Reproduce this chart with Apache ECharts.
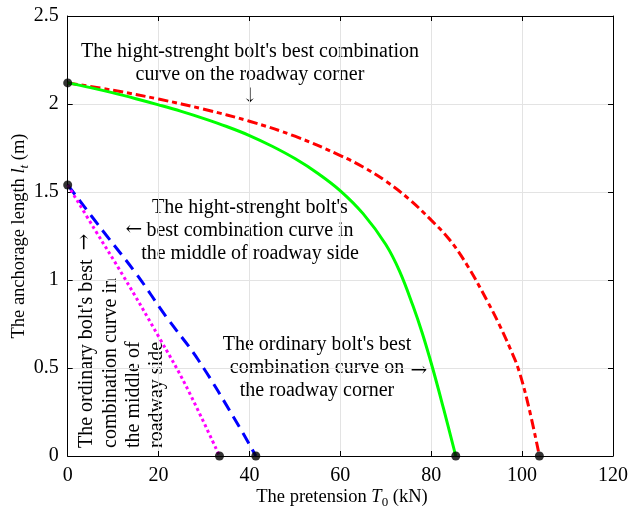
<!DOCTYPE html>
<html>
<head>
<meta charset="utf-8">
<script src="https://cdn.jsdelivr.net/npm/echarts@6/dist/echarts.min.js"></script>
<style>
  html, body { margin: 0; padding: 0; background: #fff; }
  #chart { width: 631px; height: 515px; }
</style>
</head>
<body>
<div id="chart"></div>
<script>
// Pretension T0 (kN) vs anchorage length lt (m) for each best-combination curve
const xTicks = [0, 20, 40, 60, 80, 100, 120];
const yTicks = [0, 0.5, 1, 1.5, 2, 2.5];

const hsCornerT = [0, 10, 20, 30, 40, 50, 60, 65, 70, 75, 80, 84, 88, 92.3, 95, 97.5, 99.2, 101.4, 103.8];
const hsCornerL = [2.12, 2.078, 2.028, 1.97, 1.902, 1.817, 1.707, 1.642, 1.562, 1.462, 1.34, 1.23, 1.08, 0.882, 0.745, 0.603, 0.493, 0.285, 0];

const ordCornerT = [0, 5, 10, 15, 20, 25, 30, 35, 40, 45, 50, 55, 60, 65, 70, 73, 76, 78, 80.3, 82.7, 85.4];
const ordCornerL = [2.12, 2.093, 2.063, 2.03, 1.995, 1.958, 1.917, 1.872, 1.821, 1.76, 1.69, 1.607, 1.507, 1.377, 1.202, 1.052, 0.852, 0.70, 0.50, 0.27, 0];

const hsSideT = [0, 7.8, 15.1, 21.6, 28.6, 37.3, 41.4];
const hsSideL = [1.54, 1.277, 1.035, 0.794, 0.551, 0.186, 0];

const ordSideT = [0, 6.0, 12.3, 20.2, 26.0, 33.4];
const ordSideL = [1.54, 1.285, 1.02, 0.67, 0.40, 0];

// Curve end points marked with dots
const endT = [0, 0, 33.4, 41.4, 85.4, 103.8];
const endL = [2.12, 1.54, 0, 0, 0, 0];

const pairs = (xs, ys) => xs.map((x, i) => [x, ys[i]]);

const FONT = '"Liberation Serif", "Times New Roman", serif';
const ARROW_FONT = '20px "DejaVu Serif", serif';
const NOTE_FONT = '20px ' + FONT;
const chart = echarts.init(document.getElementById('chart'));

const gridLine = { show: true, lineStyle: { color: '#e3e3e3', width: 1 } };
const axisLine = { show: true, onZero: false, lineStyle: { color: '#000', width: 1 } };
const tick = { show: true, inside: true, length: 5, lineStyle: { color: '#000' } };

const lineSeries = (name, data, color, type) => ({
  name, type: 'line', data, xAxisIndex: 0, yAxisIndex: 0,
  showSymbol: false, smooth: 0.4, z: 3,
  lineStyle: { color, width: 3, type }
});

const note = (x, y, text) => ({
  type: 'text', x, y,
  style: { text, font: NOTE_FONT, fill: '#000', align: 'center', verticalAlign: 'middle', lineHeight: 23 }
});
const arrow = (x, y, ch) => ({
  type: 'text', x, y,
  style: { text: ch, font: ARROW_FONT, fill: '#000', align: 'center', verticalAlign: 'middle' }
});

chart.setOption({
  animation: false,
  backgroundColor: '#fff',
  grid: { left: 67.7, right: 15, top: 16, bottom: 59, containLabel: false },
  xAxis: [
    {
      type: 'value', min: 0, max: 120, interval: 20, position: 'bottom',
      axisLine, axisTick: tick, splitLine: gridLine,
      axisLabel: { color: '#000', fontFamily: FONT, fontSize: 20, margin: 10,
        formatter: v => xTicks.includes(v) ? String(v) : '' }
    },
    {
      type: 'value', min: 0, max: 120, interval: 20, position: 'top',
      axisLine, axisTick: tick, splitLine: { show: false }, axisLabel: { show: false }
    }
  ],
  yAxis: [
    {
      type: 'value', min: 0, max: 2.5, interval: 0.5, position: 'left',
      axisLine, axisTick: tick, splitLine: gridLine,
      axisLabel: { color: '#000', fontFamily: FONT, fontSize: 20, margin: 9,
        formatter: v => yTicks.includes(v) ? String(v) : '' }
    },
    {
      type: 'value', min: 0, max: 2.5, interval: 0.5, position: 'right',
      axisLine, axisTick: tick, splitLine: { show: false }, axisLabel: { show: false }
    }
  ],
  series: [
    lineSeries('hsCorner', pairs(hsCornerT, hsCornerL), '#ff0000', [10, 4, 5, 4]),
    lineSeries('ordCorner', pairs(ordCornerT, ordCornerL), '#00ff00', 'solid'),
    lineSeries('hsSide', pairs(hsSideT, hsSideL), '#0000ff', [12, 7]),
    lineSeries('ordSide', pairs(ordSideT, ordSideL), '#ff00ff', [3, 3]),
    {
      name: 'ends', type: 'scatter', data: pairs(endT, endL), clip: false,
      symbol: 'circle', symbolSize: 9, itemStyle: { color: '#000' }, z: 5
    }
  ],
  graphic: [
    note(250, 63, "The hight-strenght bolt's best combination\ncurve on the roadway corner"),
    arrow(250, 97, '\u2193'),

    note(250, 231, "The hight-strenght bolt's\nbest combination curve in\nthe middle of roadway side"),
    arrow(134, 230, '\u2190'),

    note(317, 368, "The ordinary bolt's best\ncombination curve on\nthe roadway corner"),
    arrow(419, 371, '\u2192'),

    { type: 'text', x: 122, y: 448, rotation: Math.PI / 2, style: {
        text: "The ordinary bolt's best\ncombination curve in\nthe middle of\nroadway side",
        font: NOTE_FONT, fill: '#000', align: 'left', verticalAlign: 'middle', lineHeight: 23.3 } },
    { type: 'text', x: 85, y: 242, rotation: Math.PI / 2, style: {
        text: '\u2192', font: ARROW_FONT, fill: '#000', align: 'center', verticalAlign: 'middle' } },

    // axis titles
    { type: 'text', x: 342, y: 497, style: {
        rich: {
          n: { fontFamily: FONT, fontSize: 18.5, fill: '#000' },
          i: { fontFamily: FONT, fontSize: 18.5, fontStyle: 'italic', fill: '#000' },
          s: { fontFamily: FONT, fontSize: 13, fill: '#000', padding: [12, 0, 0, 0] }
        },
        text: '{n|The pretension }{i|T}{s|0}{n| (kN)}',
        align: 'center', verticalAlign: 'middle' } },
    { type: 'text', x: 19, y: 236, rotation: Math.PI / 2, style: {
        rich: {
          n: { fontFamily: FONT, fontSize: 18.5, fill: '#000' },
          i: { fontFamily: FONT, fontSize: 18.5, fontStyle: 'italic', fill: '#000' },
          s: { fontFamily: FONT, fontSize: 13, fontStyle: 'italic', fill: '#000', padding: [12, 0, 0, 0] }
        },
        text: '{n|The anchorage length }{i|l}{s|t}{n| (m)}',
        align: 'center', verticalAlign: 'middle' } }
  ]
});
</script>
</body>
</html>
